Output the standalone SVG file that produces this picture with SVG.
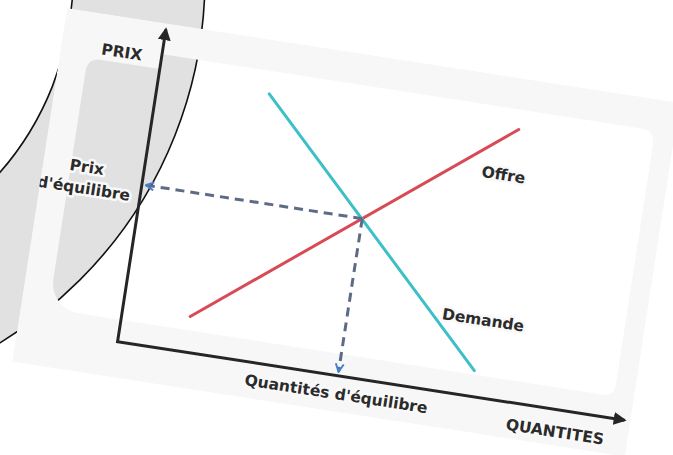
<svg xmlns="http://www.w3.org/2000/svg" width="673" height="455" viewBox="0 0 673 455">
<defs>
<style>
.lbl{font-family:"DejaVu Sans","Liberation Sans",sans-serif;font-weight:bold;font-size:15.5px;fill:#2b2b2b;stroke:#f9f9f9;stroke-width:5px;paint-order:stroke;stroke-linejoin:round;text-anchor:middle}
.axis{stroke:#262626;stroke-width:3;fill:none}
.dash{stroke:#5d6b86;stroke-width:3;stroke-dasharray:9 6;fill:none}
</style>
<marker id="ah" viewBox="0 0 12 12" refX="10" refY="6" markerWidth="13" markerHeight="13" markerUnits="userSpaceOnUse" orient="auto-start-reverse"><path d="M0,0 L12,6 L0,12 z" fill="#262626"/></marker>
<marker id="bh" viewBox="0 0 10 10" refX="9" refY="5" markerWidth="10" markerHeight="10" markerUnits="userSpaceOnUse" orient="auto"><path d="M1,1 L9,5 L1,9" fill="none" stroke="#4a7fd0" stroke-width="2"/></marker>
<clipPath id="photo"><rect x="0" y="0" width="620" height="358"/></clipPath>
</defs>
<rect width="673" height="455" fill="#ffffff"/>
<g id="crescent">
<path fill-rule="evenodd" fill="#e1e1e1" stroke="#111111" stroke-width="1.6" d="M-649,-22 a427,427 0 1,0 854,0 a427,427 0 1,0 -854,0 Z M-517,-22 a295,295 0 1,0 590,0 a295,295 0 1,0 -590,0 Z"/>
</g>
<g id="chart" transform="translate(67,8) rotate(8.8)" clip-path="url(#photo)">
<path id="frame" fill="#f7f7f7" fill-rule="evenodd" d="M0,0 H620 V358 H0 Z M100,31 H585 Q600,31 600,46 V288 Q600,300 588,300 H58 A30,30 0 0 1 28,270 V60 Q28,46 42,46 H100 Z"/>
<g id="axes"><path class="axis" d="M101,6 L101,322 L614,322" marker-start="url(#ah)" marker-end="url(#ah)"/></g>
<g id="offre-line"><line x1="169" y1="286" x2="465" y2="51" stroke="#d84a55" stroke-width="3" stroke-linecap="round"/></g>
<g id="demande-line"><line x1="213" y1="54" x2="458" y2="296" stroke="#3dbfca" stroke-width="3" stroke-linecap="round"/></g>
<g id="connectors">
<path class="dash" d="M324,163 H105" marker-end="url(#bh)"/>
<path class="dash" d="M324,163 V318" marker-end="url(#bh)"/>
</g>
<g id="label-prix"><text class="lbl" x="61" y="40.5">PRIX</text></g>
<g id="label-prix-eq"><text class="lbl" x="44" y="159.5">Prix</text><text class="lbl" x="44" y="181">d'équilibre</text></g>
<g id="label-offre"><text class="lbl" x="457" y="103.5">Offre</text></g>
<g id="label-demande"><text class="lbl" x="459" y="250">Demande</text></g>
<g id="label-qeq"><text class="lbl" x="325" y="345.5">Quantités d'équilibre</text></g>
<g id="label-quantites"><text class="lbl" x="547" y="349.5">QUANTITES</text></g>
</g>
</svg>
